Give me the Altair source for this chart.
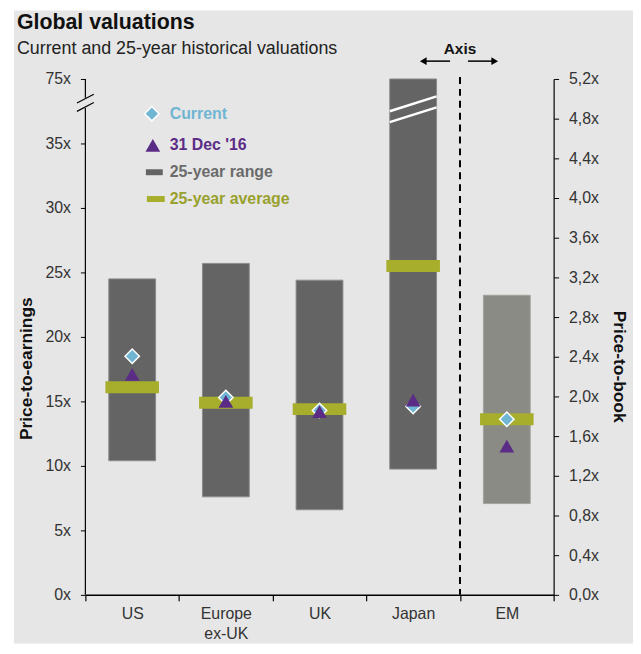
import altair as alt
import pandas as pd

# ---------------- data ----------------
markets = ["US", "Europe ex-UK", "UK", "Japan", "EM"]

# Price-to-earnings markets (left axis)
pe_markets = ["US", "Europe ex-UK", "UK", "Japan"]
pe_low = [10.4, 7.6, 6.6, 9.75]
pe_high = [24.5, 25.7, 24.4, 75.0]
pe_avg = [16.1, 14.9, 14.4, 25.5]
pe_current = [18.5, 15.3, 14.3, 14.6]
pe_dec16 = [17.1, 15.0, 14.2, 15.1]

# Price-to-book market (right axis)
pb_markets = ["EM"]
pb_low = [0.92]
pb_high = [3.02]
pb_avg = [1.77]
pb_current = [1.77]
pb_dec16 = [1.50]

pe_ticks = [0, 5, 10, 15, 20, 25, 30, 35, 40]
pe_break_label = "75x"
pb_ticks = [0.0, 0.4, 0.8, 1.2, 1.6, 2.0, 2.4, 2.8, 3.2, 3.6, 4.0, 4.4, 4.8, 5.2]

legend_labels = ["Current", "31 Dec '16", "25-year range", "25-year average"]

title_text = "Global valuations"
subtitle_text = "Current and 25-year historical valuations"
left_title = "Price-to-earnings"
right_title = "Price-to-book"
axis_note = "Axis"

# break-symbol geometry (in P/E units)
axis_lower_top = 37.75
axis_upper_bottom = 38.55
slash_a = (38.14, 38.82)
slash_b = (37.49, 38.17)
japan_break_a = (37.5, 38.65)
japan_break_b = (36.65, 37.8)

# ---------------- layout / style ----------------
W, H = 472, 520
FONT = "Liberation Sans"
C_RANGE = "#646464"
C_RANGE_EM = "#8B8B86"
C_AVG = "#A7AE2B"
C_CUR = "#70B5D2"
C_DEC = "#5B2C86"
BG = "#E6E6E6"
LBL = 16

pe_df = pd.DataFrame({"market": pe_markets, "low": pe_low, "high": pe_high,
                      "avg": pe_avg, "current": pe_current, "dec16": pe_dec16})
pb_df = pd.DataFrame({"market": pb_markets, "low": pb_low, "high": pb_high,
                      "avg": pb_avg, "current": pb_current, "dec16": pb_dec16})
one = pd.DataFrame({"k": [0]})

xscale = alt.Scale(domain=markets, paddingInner=0, paddingOuter=0)
pe_scale = alt.Scale(domain=[0, 40], clamp=True, nice=False, zero=True)
pb_scale = alt.Scale(domain=[0, 5.2], nice=False, zero=True)

x_axis = alt.Axis(orient="bottom", title=None, labelAngle=0, tickBand="extent", zindex=1,
                  domainColor="black", domainWidth=1.5, tickColor="black", tickSize=6,
                  tickWidth=1.2,
                  labelExpr="datum.value ? split(datum.value, ' ') : ''",
                  labelFontSize=LBL, labelFont=FONT, labelColor="#333333", labelPadding=5,
                  labelLineHeight=20, labelBaseline="top")

pe_axis = alt.Axis(orient="left", values=pe_ticks, title=None, grid=False, domain=False,
                   zindex=1,
                   labelExpr=f"datum.value == 40 ? '{pe_break_label}' : datum.value + 'x'",
                   tickSize=5, tickColor="black", tickWidth=1, labelFontSize=LBL,
                   labelFont=FONT, labelColor="#333333", labelPadding=10)

pb_axis = alt.Axis(orient="right", values=pb_ticks, title=None, grid=False, zindex=1,
                   labelExpr="replace(format(datum.value, '.1f'), '.', ',') + 'x'",
                   domainColor="black", domainWidth=1.2, tickSize=5, tickColor="black",
                   tickWidth=1, labelFontSize=LBL, labelFont=FONT, labelColor="#333333",
                   labelPadding=10)


def X():
    return alt.X("market:N", scale=xscale, axis=x_axis)


def YPE(field):
    return alt.Y(field, scale=pe_scale, axis=pe_axis)


def YPB(field):
    return alt.Y(field, scale=pb_scale, axis=pb_axis)


# ---------------- P/E group ----------------
bg = alt.Chart(one).mark_rect(color=BG).encode(
    x=alt.value(-72), x2=alt.value(552), y=alt.value(-69), y2=alt.value(569))

pe_bars = alt.Chart(pe_df).mark_bar(color=C_RANGE, stroke="#8c8c8c", strokeWidth=1,
                                   width=alt.RelativeBandSize(0.5)).encode(
    x=X(), y=YPE("low:Q"), y2="high:Q")

jb = pd.DataFrame({"y1": [japan_break_a[0], japan_break_b[0]],
                   "y2": [japan_break_a[1], japan_break_b[1]]})
japan_break = alt.Chart(jb).mark_rule(color="white", strokeWidth=2.5).encode(
    x=alt.value(W * 3 / 5 + W / 5 * 0.25), x2=alt.value(W * 3 / 5 + W / 5 * 0.75),
    y=YPE("y1:Q"), y2="y2:Q")

pe_avg_l = alt.Chart(pe_df).mark_tick(color=C_AVG, thickness=12, size=54, opacity=1).encode(
    x=X(), y=YPE("avg:Q"))
pe_cur_l = alt.Chart(pe_df).mark_point(shape="diamond", filled=True, fill=C_CUR, stroke="white",
                                       strokeWidth=1.5, size=210, opacity=1).encode(
    x=X(), y=YPE("current:Q"))
pe_dec_l = alt.Chart(pe_df).mark_point(shape="triangle-up", filled=True, color=C_DEC,
                                       size=220, opacity=1).encode(
    x=X(), y=YPE("dec16:Q"))

# left axis with break
seg = pd.DataFrame({"y1": [0, axis_upper_bottom], "y2": [axis_lower_top, 40]})
axis_line = alt.Chart(seg).mark_rule(color="black", strokeWidth=1.2).encode(
    x=alt.value(0), y=YPE("y1:Q"), y2="y2:Q")
sl = pd.DataFrame({"y1": [slash_a[0], slash_b[0]], "y2": [slash_a[1], slash_b[1]]})
slashes = alt.Chart(sl).mark_rule(color="black", strokeWidth=1.2).encode(
    x=alt.value(-8.5), x2=alt.value(8.5), y=YPE("y1:Q"), y2="y2:Q")

# dashed axis separator + "Axis" note
sep_x = W * 4 / 5
dashed = alt.Chart(one).mark_rule(color="black", strokeWidth=2, strokeDash=[7, 5]).encode(
    x=alt.value(sep_x), y=alt.value(-2), y2=alt.value(H))
axis_txt = alt.Chart(one).mark_text(text=axis_note, font=FONT, fontSize=15.5, fontWeight="bold",
                                    color="#111111", align="center", baseline="middle").encode(
    x=alt.value(sep_x), y=alt.value(-30))
arrow_l = alt.Chart(one).mark_rule(color="black", strokeWidth=1.5).encode(
    x=alt.value(sep_x - 10), x2=alt.value(sep_x - 36), y=alt.value(-18))
arrow_r = alt.Chart(one).mark_rule(color="black", strokeWidth=1.5).encode(
    x=alt.value(sep_x + 8), x2=alt.value(sep_x + 34), y=alt.value(-18))
head_l = alt.Chart(one).mark_point(shape="triangle-left", filled=True, color="black",
                                   size=60, opacity=1).encode(
    x=alt.value(sep_x - 37), y=alt.value(-18))
head_r = alt.Chart(one).mark_point(shape="triangle-right", filled=True, color="black",
                                   size=60, opacity=1).encode(
    x=alt.value(sep_x + 35), y=alt.value(-18))

# titles
t1 = alt.Chart(one).mark_text(text=title_text, font=FONT, fontSize=21.5, fontWeight="bold",
                              color="#111111", align="left", baseline="alphabetic").encode(
    x=alt.value(-69), y=alt.value(-50))
t2 = alt.Chart(one).mark_text(text=subtitle_text, font=FONT, fontSize=18,
                              color="#222222", align="left", baseline="alphabetic").encode(
    x=alt.value(-69), y=alt.value(-25))
yl = alt.Chart(one).mark_text(text=left_title, font=FONT, fontSize=17.5, fontWeight="bold",
                              color="#111111", angle=270, align="center",
                              baseline="middle").encode(
    x=alt.value(-59), y=alt.value(292))
yr = alt.Chart(one).mark_text(text=right_title, font=FONT, fontSize=17.5, fontWeight="bold",
                              color="#111111", angle=90, align="center",
                              baseline="middle").encode(
    x=alt.value(538), y=alt.value(290))

# legend
lg_cur = alt.Chart(one).mark_point(shape="diamond", filled=True, fill=C_CUR, stroke="white",
                                   strokeWidth=1.5, size=210, opacity=1).encode(
    x=alt.value(67), y=alt.value(35))
lg_dec = alt.Chart(one).mark_point(shape="triangle-up", filled=True, color=C_DEC,
                                   size=220, opacity=1).encode(
    x=alt.value(68), y=alt.value(67))
lg_rng = alt.Chart(one).mark_rule(color=C_RANGE, strokeWidth=6).encode(
    x=alt.value(61), x2=alt.value(78), y=alt.value(94))
lg_avg = alt.Chart(one).mark_rule(color=C_AVG, strokeWidth=6).encode(
    x=alt.value(62), x2=alt.value(80), y=alt.value(121))
legend_colors = [C_CUR, C_DEC, "#6B6B6B", "#98A12C"]
legend_y = [35, 67, 94, 121]
legend_texts = [
    alt.Chart(one).mark_text(text=lab, font=FONT, fontSize=16, fontWeight="bold", color=col,
                             align="left", baseline="middle").encode(
        x=alt.value(85), y=alt.value(yy))
    for lab, col, yy in zip(legend_labels, legend_colors, legend_y)
]

pe_group = alt.layer(bg, pe_bars, japan_break, pe_avg_l, pe_cur_l, pe_dec_l,
                     axis_line, slashes, dashed, axis_txt, arrow_l, arrow_r, head_l, head_r,
                     t1, t2, yl, yr, lg_cur, lg_dec, lg_rng, lg_avg, *legend_texts)

# ---------------- P/B group ----------------
pb_bars = alt.Chart(pb_df).mark_bar(color=C_RANGE_EM, stroke="#a3a39e", strokeWidth=1,
                                   width=alt.RelativeBandSize(0.5)).encode(
    x=X(), y=YPB("low:Q"), y2="high:Q")
pb_avg_l = alt.Chart(pb_df).mark_tick(color=C_AVG, thickness=12, size=54, opacity=1).encode(
    x=X(), y=YPB("avg:Q"))
pb_cur_l = alt.Chart(pb_df).mark_point(shape="diamond", filled=True, fill=C_CUR, stroke="white",
                                       strokeWidth=1.5, size=210, opacity=1).encode(
    x=X(), y=YPB("current:Q"))
pb_dec_l = alt.Chart(pb_df).mark_point(shape="triangle-up", filled=True, color=C_DEC,
                                       size=220, opacity=1).encode(
    x=X(), y=YPB("dec16:Q"))

pb_group = alt.layer(pb_bars, pb_avg_l, pb_cur_l, pb_dec_l)

chart = alt.layer(pe_group, pb_group).resolve_scale(y="independent").properties(
    width=W, height=H, autosize="none",
    padding={"left": 78, "top": 69, "right": 80, "bottom": 49},
).configure(background="white").configure_view(stroke=None)

chart.save("out.html", embed_options={"renderer": "svg", "actions": False})
